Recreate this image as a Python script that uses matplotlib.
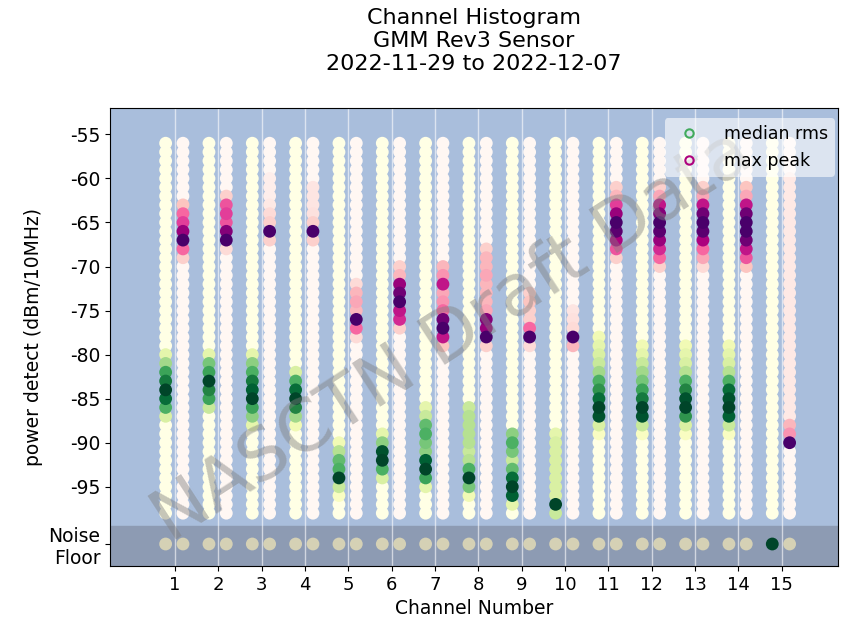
import numpy as np
import matplotlib.pyplot as plt
from matplotlib.lines import Line2D

channels = np.arange(1, 16)
levels = np.arange(-56, -99, -1)   # dBm bins drawn for every channel
noise_y = -101.5

# first coloured bin (dBm) of each channel, then normalised counts going down 1 dB per step
rms_start = [-80, -80, -80, -82, -90, -89, -86, -86, -89, -89, -78, -79, -79, -79, -56]
rms_hist = [
    [0.2, 0.4, 0.65, 0.8, 1.0, 0.85, 0.6, 0.25],
    [0.2, 0.5, 0.65, 1.0, 0.75, 0.65, 0.3],
    [0.2, 0.45, 0.6, 0.8, 0.9, 1.0, 0.65, 0.45, 0.2],
    [0.25, 0.6, 0.85, 1.0, 0.75, 0.4, 0.15],
    [0.15, 0.35, 0.55, 0.6, 1.0, 0.3, 0.1],
    [0.2, 0.45, 0.95, 1.0, 0.6, 0.25],
    [0.2, 0.3, 0.55, 0.6, 0.5, 0.45, 0.9, 1.0, 0.65, 0.2],
    [0.3, 0.35, 0.35, 0.35, 0.35, 0.3, 0.35, 0.6, 1.0, 0.5, 0.15],
    [0.45, 0.6, 0.5, 0.3, 0.55, 0.85, 1.0, 0.9, 0.2],
    [0.2, 0.25, 0.25, 0.25, 0.25, 0.25, 0.25, 0.25, 1.0, 0.3],
    [0.15, 0.2, 0.25, 0.3, 0.4, 0.6, 0.7, 0.85, 1.0, 0.95, 0.25, 0.1],
    [0.15, 0.2, 0.3, 0.4, 0.5, 0.65, 0.8, 1.0, 0.95, 0.3, 0.1],
    [0.15, 0.2, 0.25, 0.35, 0.6, 0.75, 0.95, 1.0, 0.7, 0.25, 0.1],
    [0.15, 0.2, 0.25, 0.35, 0.6, 0.85, 0.95, 1.0, 0.9, 0.3, 0.1],
    [],
]
peak_start = [-63, -62, -60, -61, -72, -70, -70, -68, -73, -75, -61, -61, -61, -61, -60]
peak_hist = [
    [0.25, 0.5, 0.6, 0.8, 1.0, 0.5, 0.2],
    [0.2, 0.55, 0.6, 0.55, 0.85, 1.0, 0.15],
    [0.05, 0.05, 0.05, 0.08, 0.15, 0.2, 1.0, 0.2],
    [0.1, 0.1, 0.1, 0.12, 0.2, 1.0, 0.2],
    [0.15, 0.3, 0.35, 0.3, 1.0, 0.5, 0.15],
    [0.2, 0.3, 0.8, 0.9, 1.0, 0.7, 0.65, 0.2],
    [0.3, 0.4, 0.7, 0.35, 0.4, 0.5, 0.9, 1.0, 0.7, 0.25],
    [0.2, 0.3, 0.3, 0.35, 0.3, 0.3, 0.3, 0.35, 0.85, 0.8, 1.0, 0.2],
    [0.2, 0.25, 0.2, 0.2, 0.5, 1.0, 0.15],
    [0.1, 0.12, 0.15, 1.0, 0.3],
    [0.2, 0.3, 0.6, 0.8, 1.0, 0.95, 0.75, 0.55, 0.2],
    [0.2, 0.35, 0.7, 0.85, 1.0, 0.95, 0.8, 0.65, 0.5, 0.2],
    [0.2, 0.35, 0.7, 0.9, 1.0, 0.95, 0.75, 0.5, 0.35, 0.15],
    [0.25, 0.35, 0.7, 0.9, 1.0, 1.0, 0.9, 0.7, 0.55, 0.25],
    [0.08, 0.08, 0.08, 0.08, 0.08, 0.08, 0.08, 0.08, 0.08, 0.08, 0.08, 0.08, 0.08, 0.08,
     0.08, 0.08, 0.08, 0.08, 0.08, 0.08, 0.08, 0.08, 0.08, 0.08, 0.08, 0.08, 0.08, 0.08,
     0.3, 0.4, 1.0],
]
rms_noise = [0, 0, 0, 0, 0, 0, 0, 0, 0, 0, 0, 0, 0, 0, 1.0]
peak_noise = [0, 0, 0, 0, 0, 0, 0, 0, 0, 0, 0, 0, 0, 0, 0]


def column_values(start, hist):
    vals = np.zeros(len(levels))
    for i, v in enumerate(hist):
        idx = np.where(levels == start - i)[0]
        if len(idx):
            vals[idx[0]] = v
    return vals


fig = plt.figure(figsize=(8.41, 6.26), dpi=100)
ax = fig.add_axes([0.131, 0.0958, 0.8656, 0.7317])
ax.set_facecolor("#a9bedc")
ax.axhspan(-104, -99.5, color="#8d9bb3", zorder=1)

for offset, starts, hists, noise, cmap in [
    (-0.22, rms_start, rms_hist, rms_noise, plt.cm.YlGn),
    (0.18, peak_start, peak_hist, peak_noise, plt.cm.RdPu),
]:
    xs, ys, cs = [], [], []
    for ch, st, h in zip(channels, starts, hists):
        vals = column_values(st, h)
        xs += [ch + offset] * len(levels)
        ys += list(levels)
        cs += list(vals)
    xs, ys, cs = np.array(xs), np.array(ys), np.array(cs)
    order = np.argsort(cs, kind="stable")
    ax.scatter(xs[order], ys[order], c=cmap(cs[order]), s=85, linewidths=0, zorder=3)
    # noise floor row
    nz = np.array(noise, dtype=float)
    nc = [cmap(v) if v > 0 else "#d5d1b5" for v in nz]
    ax.scatter(channels + offset, [noise_y] * len(channels), c=nc, s=85, linewidths=0, zorder=3)

ax.set_xlim(-0.5, 16.3)
ax.set_ylim(-104, -52)
ax.set_xticks(channels)
ax.set_xticklabels([str(c) for c in channels], fontsize=13)
yt = [-55, -60, -65, -70, -75, -80, -85, -90, -95, noise_y]
ax.set_yticks(yt)
ax.set_yticklabels([str(v) for v in yt[:-1]] + ["Noise\nFloor"], fontsize=13.5)
ax.grid(axis="x", color="white", alpha=0.6, linewidth=1)
ax.grid(axis="y", visible=False)
ax.set_xlabel("Channel Number", fontsize=13.5)
ax.set_ylabel("power detect (dBm/10MHz)", fontsize=13.5)
ax.set_title("Channel Histogram\nGMM Rev3 Sensor\n2022-11-29 to 2022-12-07", fontsize=16, pad=27)

handles = [
    Line2D([], [], marker="o", linestyle="none", markerfacecolor="none",
           markeredgecolor="#41ab5d", markersize=6, markeredgewidth=1.5, label="median rms"),
    Line2D([], [], marker="o", linestyle="none", markerfacecolor="none",
           markeredgecolor="#ae017e", markersize=6, markeredgewidth=1.5, label="max peak"),
]
leg = ax.legend(handles=handles, loc="upper right", bbox_to_anchor=(1.0, 0.985),
                fontsize=12.5, framealpha=0.6, edgecolor="none", handletextpad=1.0,
                borderaxespad=0.2)
leg.set_zorder(6)

ax.text(0.47, 0.5, "NASCTN Draft Data", transform=ax.transAxes, fontsize=52,
        color="gray", alpha=0.45, rotation=33, ha="center", va="center", zorder=5)

fig.savefig("out.png", dpi=100)
